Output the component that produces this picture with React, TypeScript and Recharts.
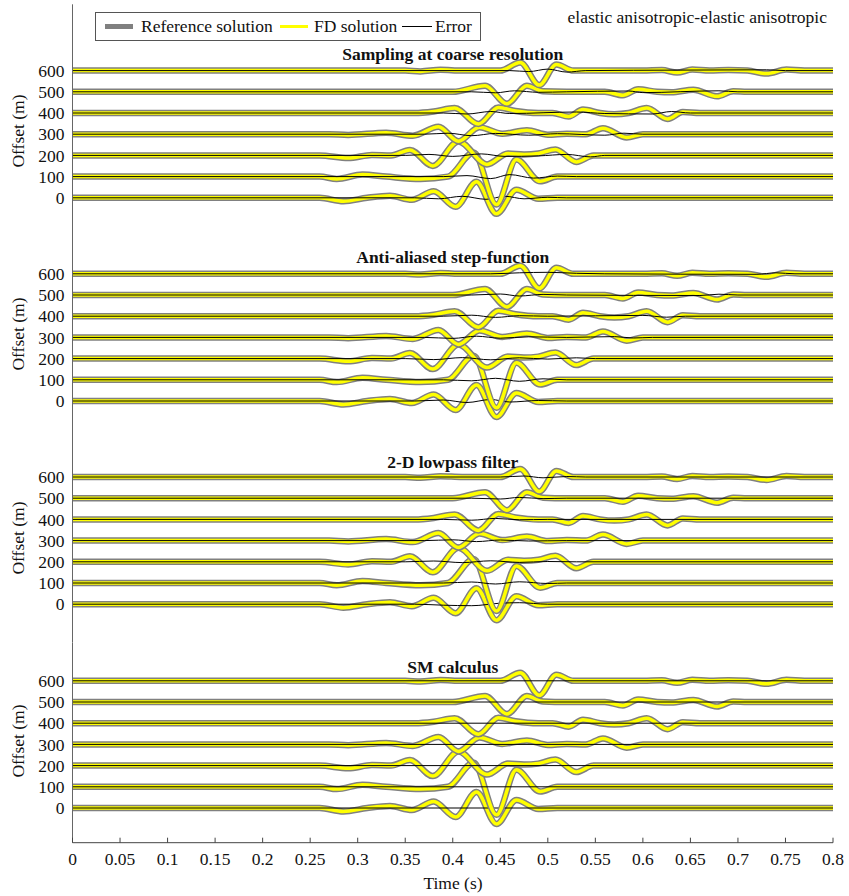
import React from "react";
import { LineChart, Line, XAxis, YAxis } from "recharts";

const OFFSETS = [0, 100, 200, 300, 400, 500, 600];
const X_TICKS = [0, 0.05, 0.1, 0.15, 0.2, 0.25, 0.3, 0.35, 0.4, 0.45, 0.5, 0.55, 0.6, 0.65, 0.7, 0.75, 0.8];
const X_LABELS = ["0", "0.05", "0.1", "0.15", "0.2", "0.25", "0.3", "0.35", "0.4", "0.45", "0.5", "0.55", "0.6", "0.65", "0.7", "0.75", "0.8"];
const PANEL_TITLES = ["Sampling at coarse resolution", "Anti-aliased step-function", "2-D lowpass filter", "SM calculus"];

// reference traces, [time (s), amplitude] with amplitude in trace units
const REF_0 = [[0, 0], [0.26, 0], [0.285, -3.5], [0.31, 0], [0.334, 2], [0.357, -2], [0.38, 6.5], [0.403, -9], [0.425, 16], [0.446, -16], [0.467, 8], [0.49, -1], [0.51, 0], [0.8, 0]];
const REF_100 = [[0, 0], [0.26, 0], [0.278, -2.3], [0.305, 2], [0.33, 0], [0.366, -2.3], [0.395, 0], [0.422, 24], [0.446, -28], [0.467, 17], [0.492, -4.7], [0.51, 0], [0.8, 0]];
const REF_200 = [[0, 0], [0.26, 0], [0.29, -2.7], [0.315, 0.5], [0.335, 0], [0.355, 5.5], [0.379, -10.5], [0.406, 14], [0.436, -9], [0.458, 2], [0.475, 1], [0.49, 2], [0.508, 6], [0.53, -6.5], [0.548, 0], [0.8, 0]];
const REF_300 = [[0, 0], [0.27, 0], [0.29, -0.8], [0.33, 1.5], [0.358, -1.5], [0.385, 7.5], [0.406, -7], [0.428, 7], [0.452, 0.5], [0.478, 4], [0.5, -0.5], [0.52, 0.5], [0.54, 0], [0.558, 6], [0.583, -3.3], [0.6, 0], [0.8, 0]];
const REF_400 = [[0, 0], [0.36, 0], [0.38, 1.5], [0.402, 5], [0.427, -11], [0.448, 5.5], [0.466, 2], [0.49, 0], [0.505, 0], [0.522, -3.5], [0.537, 3.5], [0.555, 0], [0.57, -1.2], [0.585, 0], [0.604, 5], [0.626, -6], [0.642, 1], [0.66, 0], [0.8, 0]];
const REF_500 = [[0, 0], [0.4, 0], [0.434, 6], [0.457, -12], [0.478, 6], [0.495, 0.5], [0.52, 0], [0.56, 0], [0.579, -3.5], [0.595, 2.5], [0.615, 0], [0.63, -0.5], [0.653, 2], [0.678, -4.5], [0.695, 0.5], [0.71, 0], [0.8, 0]];
const REF_600 = [[0, 0], [0.35, 0], [0.366, -0.8], [0.387, 0.8], [0.41, 0], [0.45, 0], [0.471, 8], [0.491, -14.5], [0.509, 6], [0.527, 0], [0.6, 0], [0.62, 0.5], [0.636, -2], [0.652, 1], [0.67, 0], [0.69, 0.5], [0.71, 0], [0.73, -3], [0.751, 1], [0.77, 0], [0.8, 0]];
const REFERENCE = [REF_0, REF_100, REF_200, REF_300, REF_400, REF_500, REF_600];

// error traces per method (same order as OFFSETS)
const ERR_COARSE = [
  [[0, 0], [0.36, 0], [0.385, -1], [0.41, 1.5], [0.435, -1.5], [0.455, 1.5], [0.475, -1], [0.5, 0.5], [0.52, 0], [0.8, 0]],
  [[0, 0], [0.39, 0], [0.415, 1], [0.44, -2], [0.46, 2], [0.485, -1.5], [0.51, 0.5], [0.53, 0], [0.8, 0]],
  [[0, 0], [0.35, 0], [0.375, 1], [0.4, -1], [0.43, 1.5], [0.455, -1], [0.49, -0.5], [0.52, 1], [0.545, -1.5], [0.56, 0], [0.8, 0]],
  [[0, 0], [0.37, 0], [0.395, 1], [0.42, -1.5], [0.445, 0.8], [0.48, -1], [0.51, 0.5], [0.56, -1], [0.58, 1], [0.6, 0], [0.8, 0]],
  [[0, 0], [0.39, 0], [0.415, -1], [0.44, 1.5], [0.46, -0.5], [0.53, 1], [0.56, -0.5], [0.61, -1], [0.63, 1.5], [0.65, 0], [0.8, 0]],
  [[0, 0], [0.42, 0], [0.445, -1], [0.465, 1], [0.49, -0.5], [0.52, 0], [0.585, 0.8], [0.6, -0.8], [0.68, 1], [0.7, 0], [0.8, 0]],
  [[0, 0], [0.46, 0], [0.48, -1], [0.5, 1.5], [0.52, -1.5], [0.54, 0], [0.64, 0.5], [0.73, 0.8], [0.75, 0], [0.8, 0]],
];
const ERR_ANTIALIAS = [
  [[0, 0], [0.36, 0], [0.39, 1], [0.415, -1.5], [0.44, 1.5], [0.46, -1], [0.49, 0.5], [0.52, 0], [0.8, 0]],
  [[0, 0], [0.39, 0], [0.42, -1], [0.445, 1.5], [0.47, -1.5], [0.495, 1], [0.52, 0], [0.8, 0]],
  [[0, 0], [0.35, 0], [0.38, -1], [0.41, 1], [0.44, -1.2], [0.47, 0.8], [0.5, -0.5], [0.53, 0.8], [0.55, 0], [0.8, 0]],
  [[0, 0], [0.37, 0], [0.4, -1], [0.425, 1.2], [0.45, -0.8], [0.48, 0.6], [0.52, 0], [0.57, 0.8], [0.59, -0.6], [0.61, 0], [0.8, 0]],
  [[0, 0], [0.39, 0], [0.42, 1], [0.445, -1.2], [0.47, 0.5], [0.5, 0], [0.6, 0.8], [0.625, -1], [0.645, 0], [0.8, 0]],
  [[0, 0], [0.42, 0], [0.45, 1], [0.47, -1], [0.495, 0.6], [0.52, 0], [0.66, -0.5], [0.68, 0.8], [0.7, 0], [0.8, 0]],
  [[0, 0], [0.44, 0], [0.47, 1], [0.5, 1.5], [0.53, 0.5], [0.56, 0], [0.72, -0.5], [0.74, 1], [0.76, 0], [0.8, 0]],
];
const ERR_LOWPASS = [
  [[0, 0], [0.36, 0], [0.39, -1], [0.42, -1.5], [0.45, 1], [0.47, 1.5], [0.5, 0], [0.8, 0]],
  [[0, 0], [0.39, 0], [0.42, 1], [0.445, -1], [0.47, 1.2], [0.5, -0.5], [0.52, 0], [0.8, 0]],
  [[0, 0], [0.35, 0], [0.38, 0.8], [0.41, -0.8], [0.44, 1], [0.47, -0.6], [0.5, 0.3], [0.53, 0], [0.8, 0]],
  [[0, 0], [0.37, 0], [0.4, 0.8], [0.425, -1], [0.45, 0.6], [0.48, -0.4], [0.52, 0], [0.8, 0]],
  [[0, 0], [0.39, 0], [0.42, -0.8], [0.445, 1], [0.47, -0.4], [0.5, 0], [0.8, 0]],
  [[0, 0], [0.42, 0], [0.45, -0.8], [0.47, 0.8], [0.495, -0.4], [0.52, 0], [0.8, 0]],
  [[0, 0], [0.45, 0], [0.475, 1], [0.495, -0.8], [0.52, 0.5], [0.54, 0], [0.8, 0]],
];
const ZERO_ERR = [[0, 0], [0.8, 0]];
const ERR_SM = [ZERO_ERR, ZERO_ERR, ZERO_ERR, ZERO_ERR, ZERO_ERR, ZERO_ERR, ZERO_ERR];
const PANEL_ERRORS = [ERR_COARSE, ERR_ANTIALIAS, ERR_LOWPASS, ERR_SM];

const REF_COLOR = "#808080";
const FD_COLOR = "#ffff00";
const ERR_COLOR = "#000000";
const AXIS_COLOR = "#444";
const FONT = "'Liberation Serif', 'Times New Roman', serif";
const FS = 17.5;

// layout (page pixels)
const W = 849;
const H = 896;
const PLOT_RIGHT = 833;
const PX_PER_M = 0.212;
const GAIN = 1 / PX_PER_M; // one trace unit = one pixel of deflection
const PANELS = [
  { top: 4.3, bottom: 235, zero: 197.8, titleY: 54.3 },
  { top: 235, bottom: 439, zero: 401, titleY: 256.7 },
  { top: 439, bottom: 642.5, zero: 604.2, titleY: 461.7 },
  { top: 642.5, bottom: 842.7, zero: 808, titleY: 667.3 },
];

const toLine = (pts: number[][], offset: number) => pts.map(([t, a]) => ({ t, v: offset + a * GAIN }));

const TopTick = (props: any) => {
  const { x, y } = props;
  return <line x1={x} x2={x} y1={y} y2={y + 5} stroke={AXIS_COLOR} />;
};

const BottomTick = (props: any) => {
  const { x, y, payload, index } = props;
  return (
    <g>
      <line x1={x} x2={x} y1={y} y2={y - 5} stroke={AXIS_COLOR} />
      <text x={x} y={y + 22.5} textAnchor="middle" fontFamily={FONT} fontSize={FS} fill="#111">
        {X_LABELS[index] ?? String(payload.value)}
      </text>
    </g>
  );
};

function Panel({ idx }: { idx: number }) {
  const p = PANELS[idx];
  const hi = (p.zero - p.top) / PX_PER_M;
  const lo = -(p.bottom - p.zero) / PX_PER_M;
  const isTop = idx === 0;
  const isBottom = idx === 3;
  const xAxisH = isBottom ? 53 : 0;
  const errors = PANEL_ERRORS[idx];

  return (
    <div style={{ position: "absolute", left: 0, top: 0 }}>
      <LineChart width={W} height={H} margin={{ top: p.top, bottom: H - p.bottom - xAxisH, left: 0, right: W - PLOT_RIGHT }}>
        <XAxis
          dataKey="t"
          type="number"
          domain={[0, 0.8]}
          ticks={X_TICKS}
          allowDataOverflow
          hide={!isTop && !isBottom}
          orientation={isTop ? "top" : "bottom"}
          height={xAxisH}
          tickSize={0}
          tickMargin={0}
          tickLine={false}
          axisLine={{ stroke: AXIS_COLOR }}
          tick={isTop ? <TopTick /> : <BottomTick />}
          interval={0}
        />
        <YAxis
          yAxisId="l"
          type="number"
          domain={[lo, hi]}
          allowDataOverflow
          ticks={OFFSETS}
          width={72.5}
          tickLine={false}
          tickSize={0}
          tickMargin={8}
          axisLine={{ stroke: "#666" }}
          tick={{ fontFamily: FONT, fontSize: FS, fill: "#111" }}
          interval={0}
        />
        <YAxis
          yAxisId="r"
          orientation="right"
          type="number"
          domain={[lo, hi]}
          allowDataOverflow
          width={0}
          tick={false}
          tickLine={false}
          axisLine={{ stroke: AXIS_COLOR }}
        />
        {OFFSETS.map((off, i) => [
          <Line key={`r${i}`} yAxisId="l" data={toLine(REFERENCE[i], off)} dataKey="v" type="monotone" stroke={REF_COLOR} strokeWidth={6.5} dot={false} isAnimationActive={false} />,
          <Line key={`f${i}`} yAxisId="l" data={toLine(REFERENCE[i], off)} dataKey="v" type="monotone" stroke={FD_COLOR} strokeWidth={3.5} dot={false} isAnimationActive={false} />,
          <Line key={`e${i}`} yAxisId="l" data={toLine(errors[i], off)} dataKey="v" type="monotone" stroke={ERR_COLOR} strokeWidth={1} dot={false} isAnimationActive={false} />,
        ])}
      </LineChart>
    </div>
  );
}

export default function App() {
  const textBase: React.CSSProperties = { position: "absolute", fontFamily: FONT, fontSize: FS, color: "#111", whiteSpace: "nowrap", lineHeight: "20px" };
  const legendText: React.CSSProperties = { position: "absolute", top: 3, lineHeight: "20px" };
  return (
    <div style={{ position: "absolute", left: 0, top: 0, width: W, height: H, background: "#fff", overflow: "hidden" }}>
      {PANELS.map((_, i) => <Panel key={i} idx={i} />)}

      {PANELS.map((p, i) => (
        <div key={`t${i}`} style={{ ...textBase, fontWeight: "bold", left: 452.75, top: p.titleY - 10, transform: "translateX(-50%)" }}>
          {PANEL_TITLES[i]}
        </div>
      ))}

      {PANELS.map((p, i) => (
        <div key={`o${i}`} style={{ ...textBase, left: 18, top: p.zero - 300 * PX_PER_M - 3, transform: "translate(-50%, -50%) rotate(-90deg)" }}>
          Offset (m)
        </div>
      ))}

      <div style={{ ...textBase, left: 453, top: 872.7, transform: "translateX(-50%)" }}>Time (s)</div>

      <div style={{ ...textBase, right: 22, top: 7 }}>elastic anisotropic-elastic anisotropic</div>

      <div style={{ position: "absolute", left: 95, top: 12, width: 386, height: 29, boxSizing: "border-box", border: "1px solid #555", background: "#fff", fontFamily: FONT, fontSize: FS, color: "#111", whiteSpace: "nowrap" }}>
        <span style={{ position: "absolute", left: 9, top: 11, width: 28, height: 5, background: REF_COLOR }} />
        <span style={{ ...legendText, left: 45 }}>Reference solution</span>
        <span style={{ position: "absolute", left: 184, top: 12, width: 28, height: 3, background: FD_COLOR }} />
        <span style={{ ...legendText, left: 218 }}>FD solution</span>
        <span style={{ position: "absolute", left: 306, top: 13, width: 30, height: 1, background: ERR_COLOR }} />
        <span style={{ ...legendText, left: 339 }}>Error</span>
      </div>
    </div>
  );
}
